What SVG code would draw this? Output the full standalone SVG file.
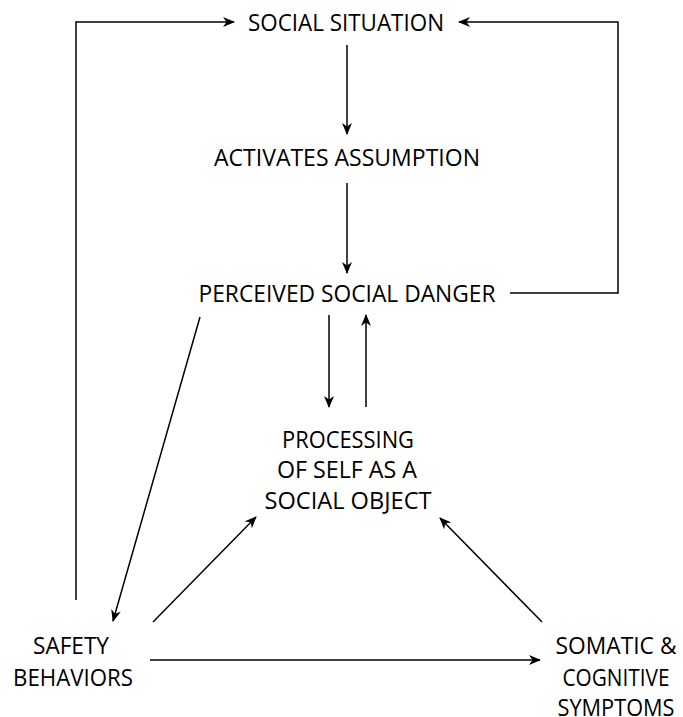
<svg xmlns="http://www.w3.org/2000/svg" width="683" height="717" viewBox="0 0 683 717">
<style>
text{font-family:"Open Sans","Liberation Sans",sans-serif;font-size:23px;fill:#000;text-anchor:middle}
.c{fill:none;stroke:#000;stroke-width:1.5}
.a{marker-end:url(#ah)}
</style>
<defs>
<marker id="ah" viewBox="0 0 12 10" refX="11" refY="5" markerWidth="12" markerHeight="10" markerUnits="userSpaceOnUse" orient="auto">
<path d="M0,0 L12,5 L0,10 L3.5,5 z" fill="#000"/>
</marker>
</defs>
<rect width="683" height="717" fill="#fff"/>
<g id="connectors">
<path class="c a" d="M76,600 V22 H234"/>
<path class="c a" d="M510,293 H618 V22 H459"/>
<path class="c a" d="M347,45 V134"/>
<path class="c a" d="M347,183 V273"/>
<path class="c a" d="M329,315 V407"/>
<path class="c a" d="M366,407 V315"/>
<path class="c a" d="M200,317 L113,621"/>
<path class="c a" d="M153,622 L256,517"/>
<path class="c a" d="M542,622 L440,518"/>
<path class="c a" d="M150,660 H540"/>
</g>
<g id="social-situation"><text x="346" y="31" textLength="196" lengthAdjust="spacingAndGlyphs">SOCIAL SITUATION</text></g>
<g id="activates-assumption"><text x="347" y="166" textLength="266" lengthAdjust="spacingAndGlyphs">ACTIVATES ASSUMPTION</text></g>
<g id="perceived-social-danger"><text x="347" y="302" textLength="297" lengthAdjust="spacingAndGlyphs">PERCEIVED SOCIAL DANGER</text></g>
<g id="processing">
<text x="348" y="448" textLength="132" lengthAdjust="spacingAndGlyphs">PROCESSING</text>
<text x="347" y="478" textLength="140" lengthAdjust="spacingAndGlyphs">OF SELF AS A</text>
<text x="348" y="509" textLength="167" lengthAdjust="spacingAndGlyphs">SOCIAL OBJECT</text>
</g>
<g id="safety-behaviors">
<text x="71" y="654" textLength="76" lengthAdjust="spacingAndGlyphs">SAFETY</text>
<text x="73" y="686" textLength="120" lengthAdjust="spacingAndGlyphs">BEHAVIORS</text>
</g>
<g id="somatic-cognitive">
<text x="616" y="654" textLength="121" lengthAdjust="spacingAndGlyphs">SOMATIC &amp;</text>
<text x="616" y="686" textLength="107" lengthAdjust="spacingAndGlyphs">COGNITIVE</text>
<text x="616" y="716" textLength="117" lengthAdjust="spacingAndGlyphs">SYMPTOMS</text>
</g>
</svg>
